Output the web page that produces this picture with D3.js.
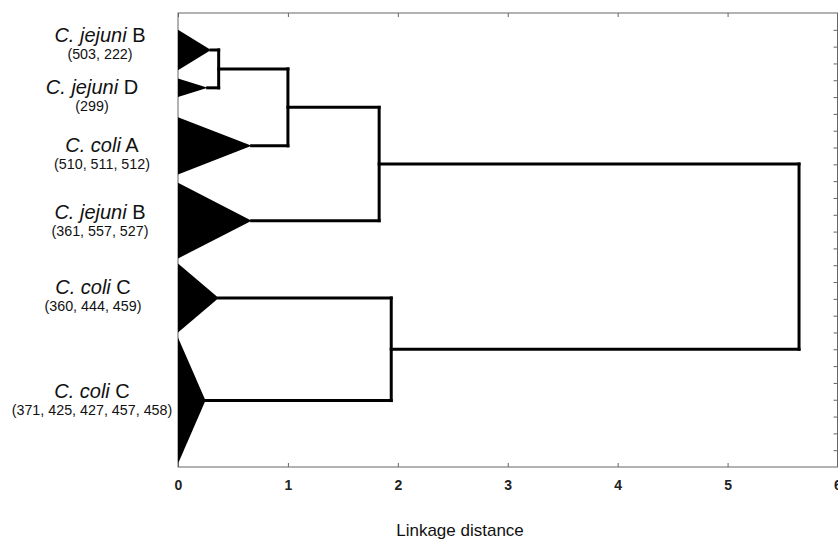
<!DOCTYPE html>
<html>
<head>
<meta charset="utf-8">
<script src="https://cdn.jsdelivr.net/npm/d3@7"></script>
<style>
  body { margin: 0; background: #fff; }
  text { font-family: "Liberation Sans", Arial, sans-serif; fill: #111; }
  .frame { fill: none; stroke: #666; stroke-width: 1; }
  .branch { fill: none; stroke: #000; stroke-width: 3; stroke-linecap: square; }
  .wedge { fill: #000; }
  .axis path { display: none; }
  .axis line { stroke: #666; }
  .axis text { font-size: 14px; font-weight: bold; fill: #222; }
</style>
</head>
<body>
<svg id="chart" width="838" height="540"></svg>
<script>
// clusters (leaves of the tree), top to bottom
var species = ['C. jejuni', 'C. jejuni', 'C. coli', 'C. jejuni', 'C. coli', 'C. coli'];
var types   = ['B', 'D', 'A', 'B', 'C', 'C'];
var isolates = ['(503, 222)', '(299)', '(510, 511, 512)', '(361, 557, 527)',
                '(360, 444, 459)', '(371, 425, 427, 457, 458)'];
// vertical extent of each cluster wedge, in object units
var spanFrom = [1.0, 3.9, 6.2, 10.1, 14.9, 19.3];
var spanTo   = [3.4, 5.0, 9.6, 14.6, 19.0, 26.8];
// within-cluster linkage distance (wedge tip)
var tipDist  = [0.3, 0.27, 0.67, 0.67, 0.37, 0.25];
// joins: [child a, child b, linkage distance]; new nodes numbered 6..10
var joins = [[0, 1, 0.37], [6, 2, 1.0], [7, 3, 1.83], [4, 5, 1.94], [8, 9, 5.65]];
var xTicks = [0, 1, 2, 3, 4, 5, 6];
var objectCount = 27;

// label nudges (layout only)
var labelX  = [100, 92, 102, 100, 93, 92];
var labelDy = [-8, 6, 6, -2, -4, -3];

var svg = d3.select('#chart');

var x = d3.scaleLinear().domain([0, 6]).range([178, 837.5]);
var y = d3.scaleLinear().domain([0, objectCount]).range([13, 467]);

// build node positions
var nodes = species.map(function(s, i){
  return { y: (spanFrom[i] + spanTo[i]) / 2, h: tipDist[i], parent: null };
});
joins.forEach(function(j){
  var a = nodes[j[0]], b = nodes[j[1]];
  var n = { y: (a.y + b.y) / 2, h: j[2], parent: null, kids: [a, b] };
  a.parent = n; b.parent = n;
  nodes.push(n);
});

// axes (ticks point inward)
svg.append('g')
   .attr('class', 'axis')
   .attr('transform', 'translate(0,' + y(objectCount) + ')')
   .call(d3.axisBottom(x).tickValues(xTicks).tickSize(-4).tickPadding(13)
          .tickFormat(d3.format('d')));

svg.append('g')
   .attr('class', 'axis')
   .attr('transform', 'translate(0,' + y(0) + ')')
   .call(d3.axisTop(x).tickValues(xTicks).tickSize(-4).tickFormat(''));

svg.append('g')
   .attr('class', 'axis')
   .attr('transform', 'translate(' + x(6) + ',0)')
   .call(d3.axisRight(y).tickValues(d3.range(1, objectCount)).tickSize(-4).tickFormat(''));

svg.append('rect')
   .attr('class', 'frame')
   .attr('x', x(0))
   .attr('y', y(0))
   .attr('width', x(6) - x(0))
   .attr('height', y(objectCount) - y(0));

// cluster wedges
svg.selectAll('.wedge')
   .data(d3.range(species.length))
   .enter().append('path')
   .attr('class', 'wedge')
   .attr('d', function(i){
     return 'M' + x(0) + ',' + y(spanFrom[i]) +
            'L' + x(tipDist[i]) + ',' + y(nodes[i].y) +
            'L' + x(0) + ',' + y(spanTo[i]) + 'Z';
   });

// horizontal branches
var branches = svg.append('g');
nodes.forEach(function(n){
  if (!n.parent) return;
  branches.append('line')
    .attr('class', 'branch')
    .attr('x1', x(n.h)).attr('x2', x(n.parent.h))
    .attr('y1', y(n.y)).attr('y2', y(n.y));
});
// vertical joins
nodes.forEach(function(n){
  if (!n.kids) return;
  branches.append('line')
    .attr('class', 'branch')
    .attr('x1', x(n.h)).attr('x2', x(n.h))
    .attr('y1', y(n.kids[0].y)).attr('y2', y(n.kids[1].y));
});

// cluster labels
species.forEach(function(s, i){
  var base = y(nodes[i].y) + labelDy[i];
  var t = svg.append('text')
    .attr('x', labelX[i])
    .attr('y', base)
    .attr('text-anchor', 'middle')
    .style('font-size', '20px');
  t.append('tspan').style('font-style', 'italic').text(s);
  t.append('tspan').text(' ' + types[i]);

  svg.append('text')
    .attr('x', labelX[i])
    .attr('y', base + 17)
    .attr('text-anchor', 'middle')
    .style('font-size', '14.3px')
    .text(isolates[i]);
});

// axis title
svg.append('text')
   .attr('x', 460)
   .attr('y', 536)
   .attr('text-anchor', 'middle')
   .style('font-size', '17px')
   .text('Linkage distance');
</script>
</body>
</html>
